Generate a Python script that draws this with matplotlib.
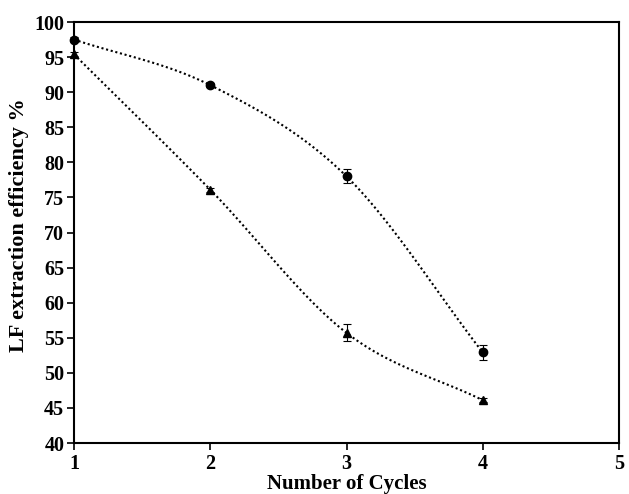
import numpy as np
import matplotlib
matplotlib.use('Agg')
import matplotlib.pyplot as plt

cycles = [1, 2, 3, 4]
circle_vals = [97.5, 91.0, 78.0, 52.9]
circle_err = [0.3, 0.3, 1.0, 1.0]
tri_vals = [95.4, 76.1, 55.7, 46.1]
tri_err = [0.3, 0.3, 1.2, 0.3]


def smooth(xs, ys, n=40):
    # Catmull-Rom style smoothing, like Excel's smoothed line
    xs = np.asarray(xs, float)
    ys = np.asarray(ys, float)
    px = np.concatenate([[2 * xs[0] - xs[1]], xs, [2 * xs[-1] - xs[-2]]])
    py = np.concatenate([[2 * ys[0] - ys[1]], ys, [2 * ys[-1] - ys[-2]]])
    out_x, out_y = [], []
    for i in range(1, len(px) - 2):
        t = np.linspace(0, 1, n)
        for p, out in ((px, out_x), (py, out_y)):
            p0, p1, p2, p3 = p[i - 1], p[i], p[i + 1], p[i + 2]
            out.extend(0.5 * ((2 * p1) + (-p0 + p2) * t
                              + (2 * p0 - 5 * p1 + 4 * p2 - p3) * t ** 2
                              + (-p0 + 3 * p1 - 3 * p2 + p3) * t ** 3))
    return out_x, out_y


plt.rcParams['font.family'] = 'Liberation Serif'
plt.rcParams['font.weight'] = 'bold'

fig = plt.figure(figsize=(6.29, 4.94), dpi=100)
ax = fig.add_axes([74 / 629, 51 / 494, 545 / 629, 421 / 494])

for vals, err, mk, ms in ((circle_vals, circle_err, 'o', 6), (tri_vals, tri_err, '^', 6)):
    sx, sy = smooth(cycles, vals)
    ax.plot(sx, sy, color='black', linestyle=(0, (1, 1.3)), linewidth=1.5)
    ax.errorbar(cycles, vals, yerr=err, fmt=mk, color='black', markersize=ms,
                capsize=3, elinewidth=0.8, capthick=0.8, clip_on=False, zorder=3)

ax.set_xlim(1, 5)
ax.set_ylim(40, 100)
ax.set_xticks([1, 2, 3, 4, 5])
ax.set_yticks(range(40, 101, 5))
ax.tick_params(axis='both', labelsize=14.5, direction='out', length=5, width=1.2)
for lab in ax.get_xticklabels() + ax.get_yticklabels():
    lab.set_fontweight('bold')
ax.tick_params(axis='y', pad=2)
ax.tick_params(axis='x', pad=3)
for s in ax.spines.values():
    s.set_linewidth(1.5)

ax.set_xlabel('Number of Cycles', fontsize=15, fontweight='bold', labelpad=0)
ax.set_ylabel('LF extraction efficiency %', fontsize=16, fontweight='bold')
ax.yaxis.set_label_coords(-0.082, 0.518)

fig.savefig('out.png', dpi=100)
